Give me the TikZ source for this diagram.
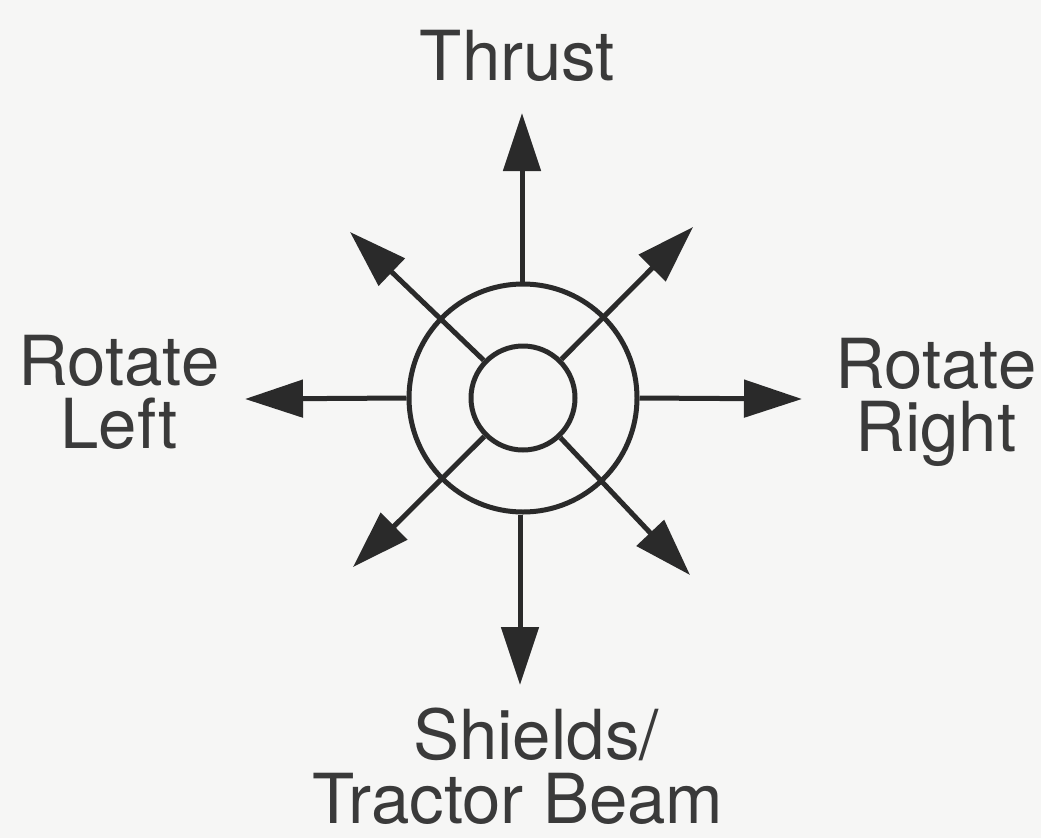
\documentclass[tikz,border=0pt]{standalone}
\usepackage{fontspec}
\setmainfont{TeX Gyre Heros}
\usetikzlibrary{arrows.meta}
\definecolor{ink}{RGB}{42,42,42}
\definecolor{txt}{RGB}{58,58,58}
\definecolor{bg}{RGB}{246,246,245}
\begin{document}
\begin{tikzpicture}[x=1pt,y=-1pt,
  ring/.style={circle,draw=ink,line width=5pt,inner sep=0pt},
  arr/.style={draw=ink,line width=5pt,-{Triangle[length=58pt,width=37pt]}},
  lbl/.style={text=txt,font=\fontsize{69}{63}\selectfont,inner sep=0pt,align=center,anchor=base}]
\fill[bg] (0,0) rectangle (1041,838);
\useasboundingbox (0,0) rectangle (1041,838);
\node[ring,minimum size=228pt] (outer) at (523,398) {};
\node[ring,minimum size=104pt] (inner) at (523,398) {};
\coordinate (n) at (522,113);
\coordinate (s) at (520,685);
\coordinate (w) at (245,399);
\coordinate (e) at (802,399);
\coordinate (nw) at (350,232);
\coordinate (ne) at (693,227);
\coordinate (sw) at (353,567);
\coordinate (se) at (690,575);
\draw[arr] (outer.north -| n) -- (n);
\draw[arr] (outer.south -| s) -- (s);
\draw[arr] (outer.west) -- (w);
\draw[arr] (outer.east) -- (e);
\draw[arr] (inner) -- (nw);
\draw[arr] (inner) -- (ne);
\draw[arr] (inner) -- (sw);
\draw[arr] (inner) -- (se);
\node[lbl] (thrust) at (517.5,80) {Thrust};
\node[lbl] (left) at (119,448) {Rotate\\Left};
\node[lbl] (right) at (936,451) {Rotate\\Right};
\node[lbl] (shields) at (536,759) {Shields/};
\node[lbl] (tractor) at (518,823) {Tractor Beam};
\end{tikzpicture}
\end{document}
